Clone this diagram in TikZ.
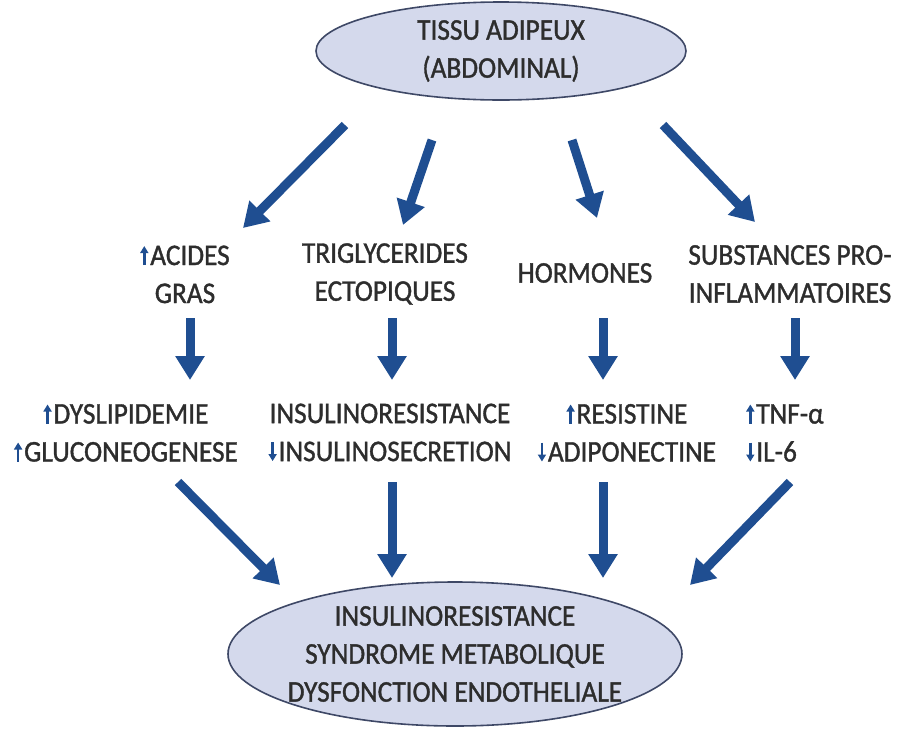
\documentclass[tikz,border=0pt]{standalone}
\usepackage{fontspec}
\setmainfont{Carlito}[FakeStretch=0.91, FakeBold=1.2]
\usetikzlibrary{arrows.meta,shapes.geometric}

\definecolor{flowblue}{RGB}{31,78,145}
\definecolor{bubblefill}{RGB}{212,217,236}
\definecolor{bubbleline}{RGB}{62,72,102}
\definecolor{inkgray}{RGB}{45,45,45}

% small blue up / down arrows in the labels
\newcommand{\hausse}{\tikz[baseline=0pt]\draw[flowblue, line width=2.6pt, -{Triangle[length=7pt,width=8pt]}] (0pt,0pt) -- (0pt,19pt);\hspace{2pt}}
\newcommand{\baisse}{\tikz[baseline=0pt]\draw[flowblue, line width=2.6pt, -{Triangle[length=7pt,width=8pt]}] (0pt,19pt) -- (0pt,0pt);\hspace{2pt}}

\begin{document}
\begin{tikzpicture}[x=1pt, y=-1pt, every node/.style={font=\fontsize{30}{38}\selectfont, text=inkgray},
	bubble/.style={ellipse, draw=bubbleline, fill=bubblefill, line width=1.6pt, align=center, inner sep=0pt},
	lbl/.style={align=center},
	flow/.style={draw=flowblue, line width=9pt, -{Triangle[length=24pt,width=28pt]}}]
	\useasboundingbox (0,0) rectangle (898,729);
	\node[bubble, minimum width=370, minimum height=98] (adipeux) at (501,51) {TISSU ADIPEUX\\(ABDOMINAL)};
	\node[lbl] (acides) at (185,274) {\hausse ACIDES\\GRAS};
	\node[lbl] (trigly) at (385,274) {TRIGLYCERIDES\\ECTOPIQUES};
	\node[lbl] (hormones) at (585,273) {HORMONES};
	\node[lbl] (substances) at (790,274) {SUBSTANCES PRO-\\INFLAMMATOIRES};
	\node[lbl] (dyslip) at (126,433) {\hausse DYSLIPIDEMIE\\\hausse GLUCONEOGENESE};
	\node[lbl] (insulino) at (390,433) {INSULINORESISTANCE\\\baisse INSULINOSECRETION};
	\node[lbl] (resistine) at (627,433) {\hausse RESISTINE\\\baisse ADIPONECTINE};
	\node[lbl, align=left] (tnf) at (785,433) {\hausse TNF-α\\\baisse IL-6};
	\node[bubble, inner xsep=-12pt, minimum width=454, minimum height=144] (syndrome) at (455,654) {INSULINORESISTANCE\\SYNDROME METABOLIQUE\\DYSFONCTION ENDOTHELIALE};
	% from the adipose tissue
	\draw[flow] ([shift={(-156,74)}]adipeux.center) -- ([shift={(58,-46)}]acides.center);
	\draw[flow] ([shift={(-69,89)}]adipeux.center) -- ([shift={(18,-49)}]trigly.center);
	\draw[flow] ([shift={(71,89)}]adipeux.center) -- ([shift={(12,-55)}]hormones.center);
	\draw[flow] ([shift={(162,74)}]adipeux.center) -- ([shift={(-35,-52)}]substances.center);
	% middle row
	\draw[flow] ([shift={(5,44)}]acides.center) -- ([shift={(64,-53)}]dyslip.center);
	\draw[flow] ([shift={(7,44)}]trigly.center) -- ([shift={(2,-53)}]insulino.center);
	\draw[flow] ([shift={(18,45)}]hormones.center) -- ([shift={(-24,-53)}]resistine.center);
	\draw[flow] ([shift={(5,44)}]substances.center) -- ([shift={(10,-53)}]tnf.center);
	% into the syndrome
	\draw[flow] ([shift={(52,49)}]dyslip.center) -- ([shift={(-175,-69)}]syndrome.center);
	\draw[flow] ([shift={(2,49)}]insulino.center) -- ([shift={(-63,-76)}]syndrome.center);
	\draw[flow] ([shift={(-24,49)}]resistine.center) -- ([shift={(148,-76)}]syndrome.center);
	\draw[flow] ([shift={(5,49)}]tnf.center) -- ([shift={(235,-69)}]syndrome.center);
\end{tikzpicture}
\end{document}
